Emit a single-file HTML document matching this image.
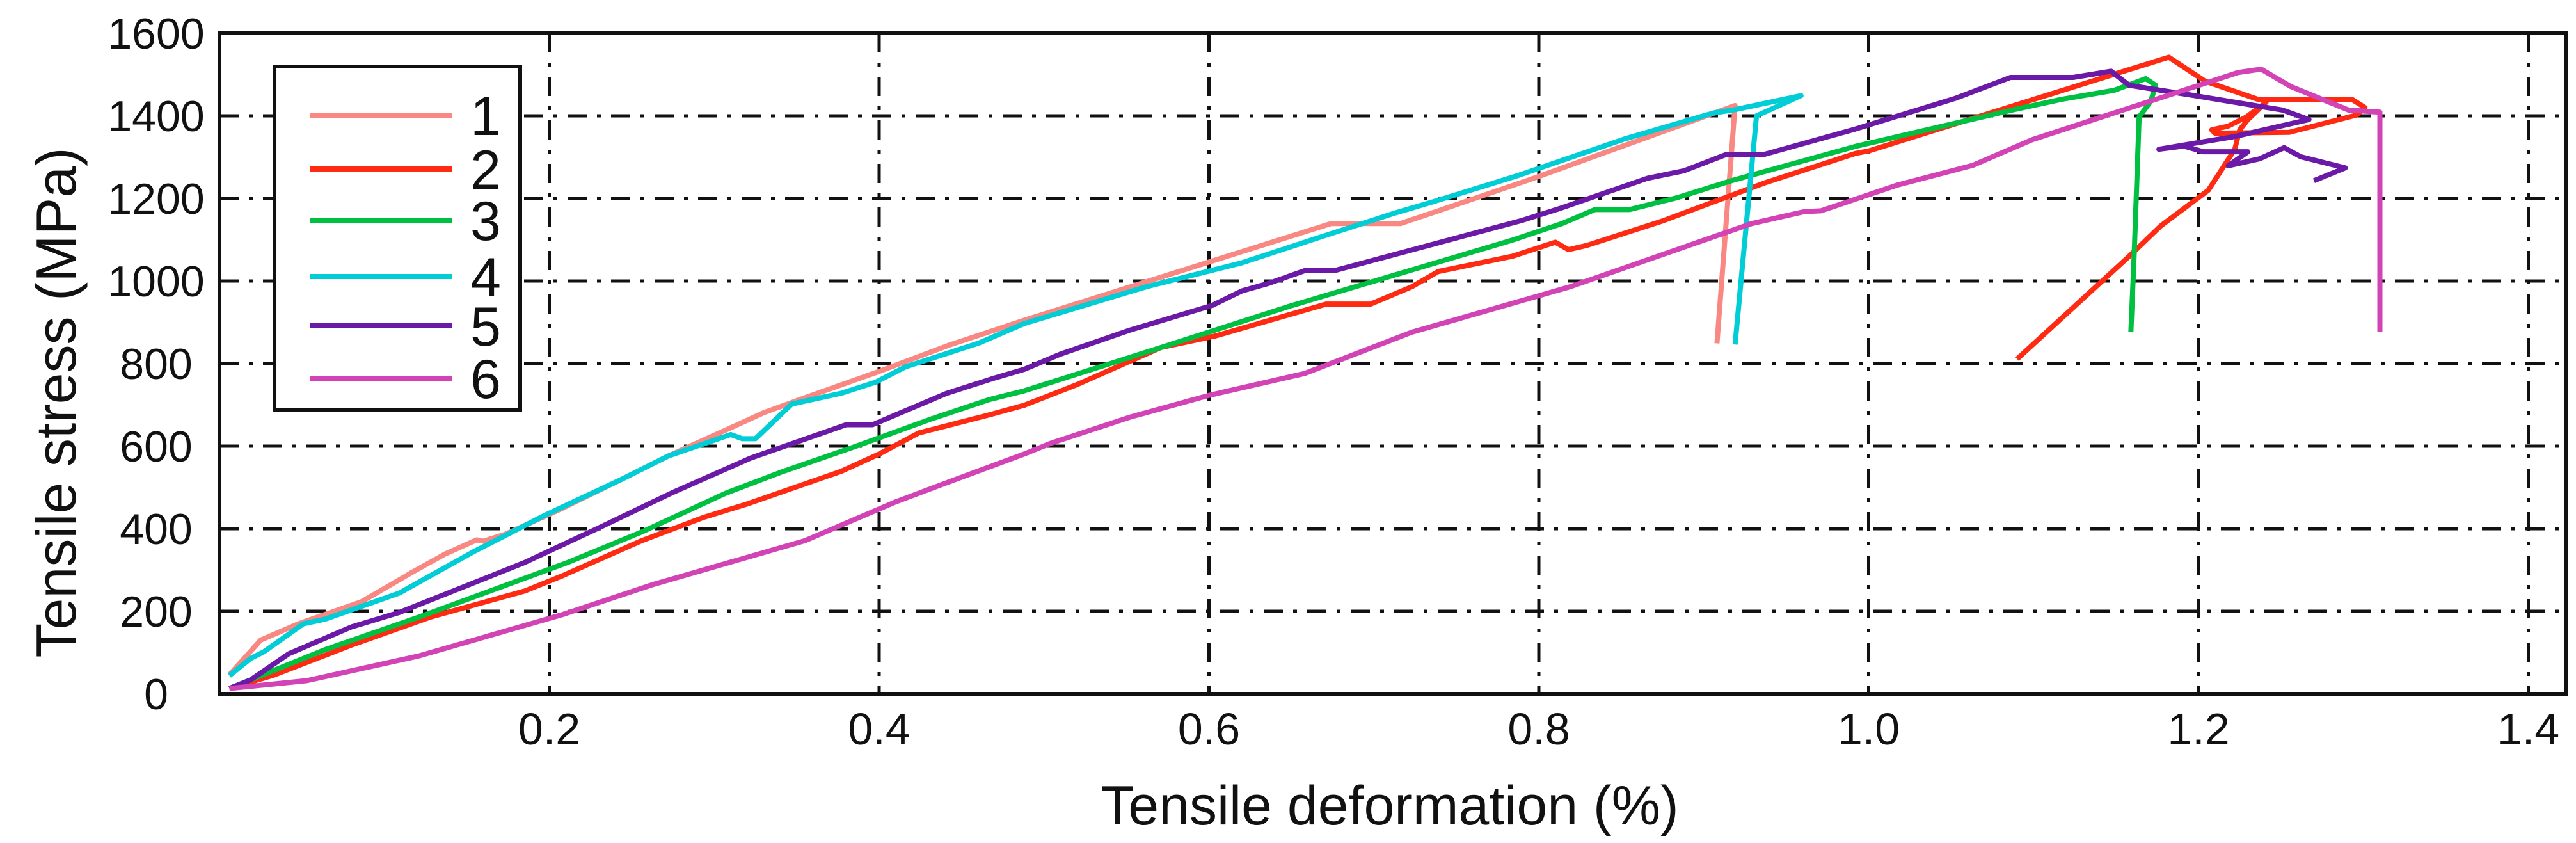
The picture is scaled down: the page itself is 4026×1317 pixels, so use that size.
<!DOCTYPE html>
<html><head><meta charset="utf-8"><style>
html,body{margin:0;padding:0;background:#fff;}
svg{display:block;font-family:"Liberation Sans",Arial,sans-serif;}
</style></head><body>
<svg id="chart" width="4026" height="1317" viewBox="0 0 4026 1317" xmlns="http://www.w3.org/2000/svg">
<rect x="0" y="0" width="4026" height="1317" fill="#fff"/>
<g id="grid"></g>
<g id="series"></g>
<rect x="343" y="52" width="3667" height="1032" fill="none" stroke="#111" stroke-width="6"/>
<g id="ticks" font-size="68" fill="#111"></g>
<text transform="translate(118,629) rotate(-90)" text-anchor="middle" font-size="88" fill="#111">Tensile stress (MPa)</text>
<text x="2172" y="1288" text-anchor="middle" font-size="86" fill="#111">Tensile deformation (%)</text>
<g id="legend">
<rect x="429" y="104" width="384" height="536" fill="#fff" stroke="#111" stroke-width="6"/>
</g>
</svg>
<script>
const xTicks = [0.2, 0.4, 0.6, 0.8, 1.0, 1.2, 1.4];
const xTickLabels = ["0.2", "0.4", "0.6", "0.8", "1.0", "1.2", "1.4"];
const yTicks = [0, 200, 400, 600, 800, 1000, 1200, 1400, 1600];
const yTickLabels = ["0", "200", "400", "600", "800", "1000", "1200", "1400", "1600"];
const seriesNames = ["1", "2", "3", "4", "5", "6"];
const seriesColors = ["#F98883", "#FF2A12", "#00C042", "#00CDD6", "#6A1AA6", "#D243B6"];

const s1x = [0.006,0.025,0.048,0.086,0.118,0.137,0.156,0.16,0.173,0.205,0.243,0.272,0.307,0.33,0.352,0.4,0.442,0.488,0.674,0.716,0.739,0.797,0.919,0.908];
const s1y = [46,130,170,223,297,339,373,370,386,444,518,576,639,681,713,781,844,905,1139,1139,1170,1249,1425,849];

const s2x = [0.006,0.032,0.08,0.128,0.185,0.208,0.256,0.294,0.32,0.377,0.4,0.424,0.467,0.488,0.52,0.571,0.604,0.671,0.698,0.723,0.739,0.784,0.81,0.818,0.829,0.874,0.938,0.992,1.0,1.182,1.204,1.236,1.293,1.301,1.296,1.255,1.210,1.208,1.218,1.229,1.241,1.230,1.225,1.222,1.206,1.177,1.158,1.090];
const s2y = [13,44,118,186,249,286,371,428,460,539,581,632,676,699,749,839,867,944,944,986,1023,1060,1094,1076,1086,1144,1239,1309,1315,1542,1484,1440,1440,1420,1402,1360,1358,1366,1375,1397,1433,1391,1366,1319,1220,1133,1060,811];

const s3x = [0.006,0.064,0.121,0.211,0.256,0.307,0.342,0.384,0.431,0.467,0.488,0.571,0.649,0.784,0.814,0.834,0.855,0.884,0.916,0.992,1.087,1.117,1.149,1.168,1.174,1.171,1.164,1.161,1.159];
const s3y = [13,107,186,318,392,486,539,597,665,713,734,839,939,1099,1139,1173,1173,1202,1242,1326,1414,1440,1462,1490,1474,1435,1397,1065,876];

const s4x = [0.006,0.019,0.027,0.051,0.064,0.109,0.154,0.198,0.243,0.272,0.31,0.317,0.325,0.347,0.377,0.398,0.416,0.46,0.488,0.562,0.62,0.668,0.713,0.736,0.787,0.852,0.906,0.919,0.959,0.932,0.919];
const s4y = [44,86,102,170,181,244,344,434,518,576,628,618,618,702,728,755,792,849,897,986,1044,1107,1165,1192,1255,1344,1407,1415,1449,1400,846];

const s5x = [0.006,0.019,0.042,0.08,0.109,0.185,0.23,0.275,0.322,0.38,0.396,0.441,0.47,0.488,0.51,0.552,0.602,0.62,0.636,0.658,0.676,0.79,0.813,0.866,0.888,0.914,0.937,0.992,1.053,1.086,1.124,1.147,1.158,1.199,1.251,1.267,1.222,1.176,1.191,1.203,1.230,1.218,1.237,1.252,1.262,1.289,1.270];
const s5y = [13,34,97,162,197,318,402,488,571,652,652,728,765,786,823,881,941,976,994,1025,1025,1147,1176,1249,1267,1307,1307,1368,1443,1493,1493,1508,1474,1448,1414,1391,1350,1319,1327,1313,1313,1279,1296,1323,1301,1274,1243];

const s6x = [0.006,0.053,0.121,0.208,0.263,0.355,0.41,0.442,0.488,0.504,0.552,0.6,0.658,0.723,0.819,0.929,0.961,0.971,1.017,1.063,1.099,1.224,1.238,1.256,1.291,1.310,1.310];
const s6y = [13,32,92,192,265,371,465,513,581,607,670,723,776,876,986,1139,1168,1170,1232,1280,1342,1505,1513,1471,1414,1409,876];

const seriesX = [s1x, s2x, s3x, s4x, s5x, s6x];
const seriesY = [s1y, s2y, s3y, s4y, s5y, s6y];

const NS = "http://www.w3.org/2000/svg";
const plotL = 343, plotR = 4010, plotT = 52, plotB = 1084;
const x0 = 343, xPerUnit = 2577.5;
const yPerMPa = 0.645;
function xs(v){ return x0 + v * xPerUnit; }
function ys(v){ return plotB - v * yPerMPa; }

const grid = document.getElementById('grid');
for (let i = 0; i < xTicks.length; i++) {
  const l = document.createElementNS(NS, 'line');
  
  
  l.setAttribute('x1', xs(xTicks[i])); l.setAttribute('x2', xs(xTicks[i]));
  l.setAttribute('y1', plotT); l.setAttribute('y2', plotB);
  l.setAttribute('stroke', '#111'); l.setAttribute('stroke-width', '5');
  l.setAttribute('stroke-dasharray', '30 16 6 16');
  grid.appendChild(l);
}
for (let i = 1; i < yTicks.length - 1; i++) {
  const l = document.createElementNS(NS, 'line');
  
  
  l.setAttribute('x1', plotL); l.setAttribute('x2', plotR);
  l.setAttribute('y1', ys(yTicks[i])); l.setAttribute('y2', ys(yTicks[i]));
  l.setAttribute('stroke', '#111'); l.setAttribute('stroke-width', '5');
  l.setAttribute('stroke-dasharray', '30 16 6 16');
  grid.appendChild(l);
}

const ticks = document.getElementById('ticks');
for (let i = 0; i < xTicks.length; i++) {
  const t = document.createElementNS(NS, 'text');
  
  
  t.setAttribute('x', xs(xTicks[i])); t.setAttribute('y', 1163);
  t.setAttribute('text-anchor', 'middle'); t.setAttribute('font-size', '70');
  t.textContent = xTickLabels[i];
  ticks.appendChild(t);
}
for (let i = 0; i < yTicks.length; i++) {
  const t = document.createElementNS(NS, 'text');
  
  
  t.setAttribute('x', 244); t.setAttribute('y', ys(yTicks[i]) + 24);
  t.setAttribute('text-anchor', 'middle');
  t.textContent = yTickLabels[i];
  ticks.appendChild(t);
}

const sg = document.getElementById('series');
for (let s = 0; s < seriesX.length; s++) {
  let d = '';
  for (let i = 0; i < seriesX[s].length; i++) {
    d += (i ? 'L' : 'M') + xs(seriesX[s][i]).toFixed(1) + ',' + ys(seriesY[s][i]).toFixed(1);
  }
  const p = document.createElementNS(NS, 'path');
  
  
  p.setAttribute('d', d);
  p.setAttribute('fill', 'none');
  p.setAttribute('stroke', seriesColors[s]);
  p.setAttribute('stroke-width', '8');
  p.setAttribute('stroke-linejoin', 'round');
  sg.appendChild(p);
}

const lg = document.getElementById('legend');
const legendYs = [180, 264, 344, 432, 509, 591];
for (let s = 0; s < seriesNames.length; s++) {
  const l = document.createElementNS(NS, 'line');
  
  
  l.setAttribute('x1', 485); l.setAttribute('x2', 706);
  l.setAttribute('y1', legendYs[s]); l.setAttribute('y2', legendYs[s]);
  l.setAttribute('stroke', seriesColors[s]); l.setAttribute('stroke-width', '8');
  lg.appendChild(l);
  const t = document.createElementNS(NS, 'text');
  
  
  t.setAttribute('x', 759); t.setAttribute('y', legendYs[s] + 31);
  t.setAttribute('text-anchor', 'middle'); t.setAttribute('font-size', '86'); t.setAttribute('fill', '#111');
  t.textContent = seriesNames[s];
  lg.appendChild(t);
}
</script>
</body></html>
